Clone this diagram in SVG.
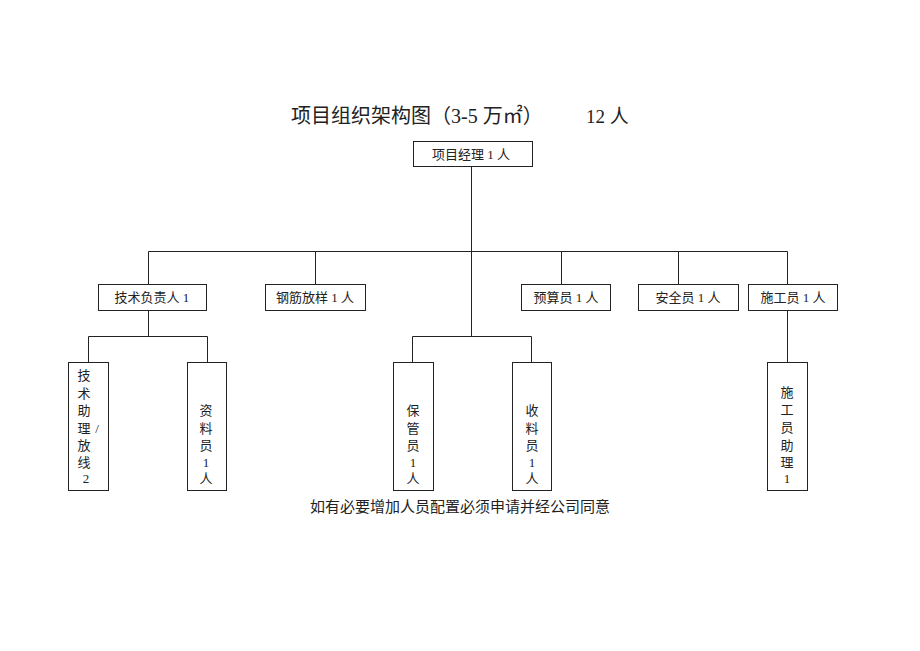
<svg xmlns="http://www.w3.org/2000/svg" width="920" height="651" viewBox="0 0 920 651">
<style>
.box{fill:#fff;stroke:#222;stroke-width:1}
.ln{fill:none;stroke:#222;stroke-width:1}
text{font-family:"Liberation Serif","Noto Sans CJK SC",serif;fill:#222}
.t{font-size:13px;text-anchor:middle}
.v{font-size:13px;text-anchor:middle}
</style>
<rect width="920" height="651" fill="#fff"/>
<g id="title">
<text x="291" y="123" style="font-size:20px">项目组织架构图（3-5 万㎡）</text>
<text x="586" y="123" style="font-size:19px">12 人</text>
</g>
<g id="connectors">
<path class="ln" d="M471.5 166V336"/>
<path class="ln" d="M148.5 285V251.5H787.5V285"/>
<path class="ln" d="M315.5 251.5V285M561.5 251.5V285M678.5 251.5V285"/>
<path class="ln" d="M148.5 311V336.5M88.5 362V336.5H207.5V362"/>
<path class="ln" d="M412.5 362V336.5H531.5V362"/>
<path class="ln" d="M787.5 311V362"/>
</g>
<g id="n-pm"><rect class="box" x="413.5" y="141.5" width="119" height="25"/><text class="t" x="471" y="159">项目经理 1 人</text></g>
<g id="n-tech"><rect class="box" x="98.5" y="284.5" width="108" height="26"/><text class="t" x="152" y="302">技术负责人 1</text></g>
<g id="n-rebar"><rect class="box" x="265.5" y="284.5" width="100" height="26"/><text class="t" x="315" y="302">钢筋放样 1 人</text></g>
<g id="n-budget"><rect class="box" x="521.5" y="284.5" width="89" height="26"/><text class="t" x="566" y="302">预算员 1 人</text></g>
<g id="n-safety"><rect class="box" x="638.5" y="284.5" width="100" height="26"/><text class="t" x="688" y="302">安全员 1 人</text></g>
<g id="n-constr"><rect class="box" x="748.5" y="284.5" width="89" height="26"/><text class="t" x="793" y="302">施工员 1 人</text></g>
<g id="n-techassist"><rect class="box" x="68.5" y="362.5" width="40" height="128"/>
<text class="v" x="84" y="380">技</text><text class="v" x="84" y="398">术</text><text class="v" x="84" y="415">助</text><text class="v" x="84" y="433">理</text><text class="v" x="97" y="433">/</text><text class="v" x="84" y="450">放</text><text class="v" x="84" y="467">线</text><text class="v" x="86" y="483">2</text></g>
<g id="n-docs"><rect class="box" x="187.5" y="362.5" width="39" height="128"/>
<text class="v" x="206" y="415">资</text><text class="v" x="206" y="433">料</text><text class="v" x="206" y="450">员</text><text class="v" x="206" y="467">1</text><text class="v" x="206" y="483">人</text></g>
<g id="n-keeper"><rect class="box" x="393.5" y="362.5" width="40" height="128"/>
<text class="v" x="413" y="415">保</text><text class="v" x="413" y="433">管</text><text class="v" x="413" y="450">员</text><text class="v" x="413" y="467">1</text><text class="v" x="413" y="483">人</text></g>
<g id="n-receiver"><rect class="box" x="512.5" y="362.5" width="39" height="128"/>
<text class="v" x="532" y="415">收</text><text class="v" x="532" y="433">料</text><text class="v" x="532" y="450">员</text><text class="v" x="532" y="467">1</text><text class="v" x="532" y="483">人</text></g>
<g id="n-constrassist"><rect class="box" x="767.5" y="362.5" width="40" height="128"/>
<text class="v" x="787" y="397">施</text><text class="v" x="787" y="414">工</text><text class="v" x="787" y="432">员</text><text class="v" x="787" y="450">助</text><text class="v" x="787" y="467">理</text><text class="v" x="787" y="483">1</text></g>
<g id="note"><text x="460" y="512" style="font-size:15px;text-anchor:middle">如有必要增加人员配置必须申请并经公司同意</text></g>
</svg>
